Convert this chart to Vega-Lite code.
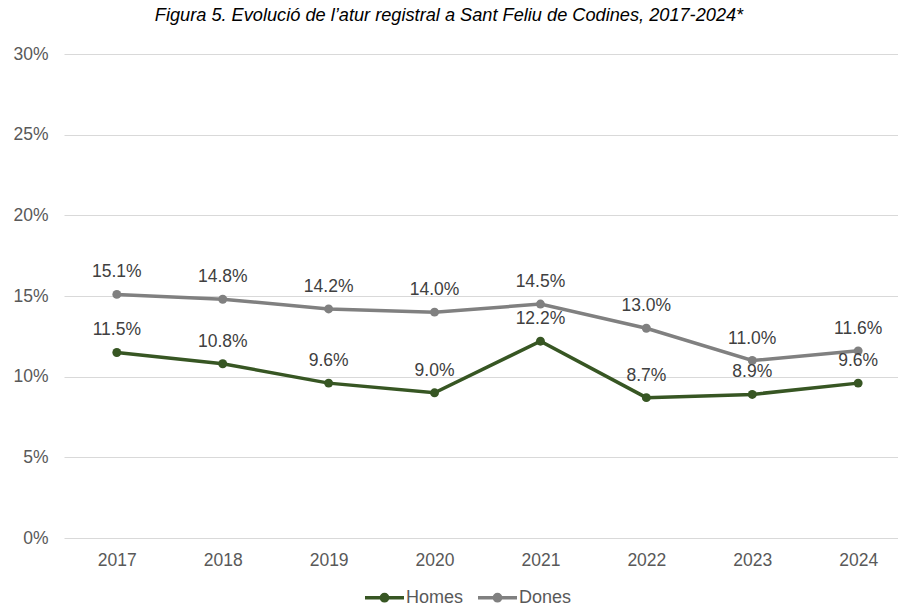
{
  "$schema": "https://vega.github.io/schema/vega-lite/v6.json",
  "autosize": {"type": "none"},
  "padding": {"left": 64, "top": 54, "right": 0, "bottom": 68},
  "width": 834,
  "height": 484,
  "background": "white",
  "config": {
    "font": "Liberation Sans",
    "view": {"stroke": null}
  },
  "title": {
    "text": "Figura 5. Evolució de l’atur registral a Sant Feliu de Codines, 2017-2024*",
    "font": "Liberation Sans",
    "fontSize": 18.2,
    "fontStyle": "italic",
    "fontWeight": "normal",
    "color": "#000000",
    "anchor": "middle",
    "dx": -32,
    "offset": 20
  },
  "data": {
    "values": [
      {"year": "2017", "serie": "Homes", "v": 0.115},
      {"year": "2018", "serie": "Homes", "v": 0.108},
      {"year": "2019", "serie": "Homes", "v": 0.096},
      {"year": "2020", "serie": "Homes", "v": 0.090},
      {"year": "2021", "serie": "Homes", "v": 0.122},
      {"year": "2022", "serie": "Homes", "v": 0.087},
      {"year": "2023", "serie": "Homes", "v": 0.089},
      {"year": "2024", "serie": "Homes", "v": 0.096},
      {"year": "2017", "serie": "Dones", "v": 0.151},
      {"year": "2018", "serie": "Dones", "v": 0.148},
      {"year": "2019", "serie": "Dones", "v": 0.142},
      {"year": "2020", "serie": "Dones", "v": 0.140},
      {"year": "2021", "serie": "Dones", "v": 0.145},
      {"year": "2022", "serie": "Dones", "v": 0.130},
      {"year": "2023", "serie": "Dones", "v": 0.110},
      {"year": "2024", "serie": "Dones", "v": 0.116}
    ]
  },
  "encoding": {
    "x": {
      "field": "year", "type": "ordinal",
      "scale": {"type": "point", "padding": 0.4375, "align": 0.57},
      "axis": {
        "title": null, "labelAngle": 0, "domain": false, "ticks": false, "grid": false,
        "labelFontSize": 17.5, "labelColor": "#595959", "labelPadding": 13
      }
    },
    "y": {
      "field": "v", "type": "quantitative",
      "scale": {"domain": [0, 0.3], "nice": false},
      "axis": {
        "title": null, "format": ".0%", "values": [0, 0.05, 0.1, 0.15, 0.2, 0.25, 0.3],
        "domain": false, "ticks": false, "gridColor": "#d9d9d9", "gridWidth": 1,
        "labelFontSize": 17.5, "labelColor": "#595959", "labelPadding": 16
      }
    },
    "color": {
      "field": "serie", "type": "nominal",
      "scale": {"domain": ["Homes", "Dones"], "range": ["#375623", "#808080"]},
      "legend": {
        "title": null, "orient": "none", "direction": "horizontal",
        "legendX": 299, "legendY": 522,
        "symbolType": "M-1,0L1,0M0.16,0A0.16,0.16,0,1,1,-0.16,0A0.16,0.16,0,1,1,0.16,0Z",
        "symbolSize": 1521, "symbolStrokeWidth": 3.5,
        "labelFontSize": 18, "labelColor": "#595959", "labelOffset": 0,
        "columnPadding": 7,
        "encode": {"symbols": {"update": {"fill": {"scale": "color", "field": "value"}, "stroke": {"scale": "color", "field": "value"}}}}
      }
    }
  },
  "layer": [
    {"mark": {"type": "line", "strokeWidth": 3.5}},
    {"mark": {"type": "point", "filled": true, "size": 80, "opacity": 1}},
    {
      "mark": {"type": "text", "dy": -17, "baseline": "alphabetic", "fontSize": 17.5, "color": "#404040"},
      "encoding": {
        "text": {"field": "v", "type": "quantitative", "format": ".1%"},
        "color": {"value": "#404040"}
      }
    }
  ]
}
